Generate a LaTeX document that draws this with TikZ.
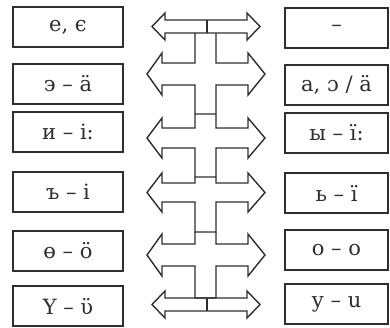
\documentclass[tikz,border=0pt]{standalone}
\usepackage{fontspec}
\setmainfont{DejaVu Serif}
\definecolor{ink}{HTML}{2E2E2E}
\tikzset{
  box/.style={draw=ink, line width=1.8pt, minimum height=40pt, inner sep=0pt, text=ink, font=\fontsize{21}{21}\selectfont},
  lbox/.style={box, minimum width=110pt},
  rbox/.style={box, minimum width=103pt},
  arr/.style={draw=ink, line width=1.4pt, line join=miter},
}
% cross-shaped double arrow: #1 stem top, #2 shaft top, #3 shaft bottom, #4 stem bottom
\newcommand{\crossarrow}[4]{%
  \draw[arr] (195,#1) -- (195,#2) -- (162,#2) -- (162,#2-10) -- (147,{(#2+#3)/2}) -- (162,#3+10) -- (162,#3)
    -- (195,#3) -- (195,#4) -- (216,#4) -- (216,#3) -- (248,#3) -- (248,#3+10) -- (265,{(#2+#3)/2})
    -- (248,#2-10) -- (248,#2) -- (216,#2) -- (216,#1);}
% thin double arrow with divider: #1 shaft top, #2 shaft bottom
\newcommand{\thinarrow}[2]{%
  \draw[arr] (152,{(#1+#2)/2}) -- (165,#1-7) -- (165,#1) -- (247,#1) -- (247,#1-7) -- (260,{(#1+#2)/2})
    -- (247,#2+7) -- (247,#2) -- (165,#2) -- (165,#2+7) -- cycle;
  \draw[arr] (207,#1) -- (207,#2);}
\begin{document}
\begin{tikzpicture}[x=1pt,y=-1pt]
\useasboundingbox (0,0) rectangle (390,327);
\node[lbox] (l1) at (68,27) {e, ϵ};
\node[lbox] (l2) at (68,84) {э – ä};
\node[lbox] (l3) at (68,132) {и – i:};
\node[lbox] (l4) at (68,192) {ъ – i};
\node[lbox] (l5) at (68,251) {ө – ö};
\node[lbox] (l6) at (68,306) {Ү – ϋ};
\node[rbox] (r1) at (336.5,28) {–};
\node[rbox] (r2) at (336.5,85) {a, ɔ / ä};
\node[rbox] (r3) at (336.5,133) {ы – ï:};
\node[rbox] (r4) at (336.5,193) {ь – ï};
\node[rbox] (r5) at (336.5,250) {o – o};
\node[rbox] (r6) at (336.5,304) {у – u};
\thinarrow{20}{33}
\crossarrow{33}{63}{85}{114}
\crossarrow{114}{128}{148}{177}
\crossarrow{177}{183}{202}{232}
\crossarrow{232}{244}{266}{298}
\thinarrow{298}{311}
\end{tikzpicture}
\end{document}
